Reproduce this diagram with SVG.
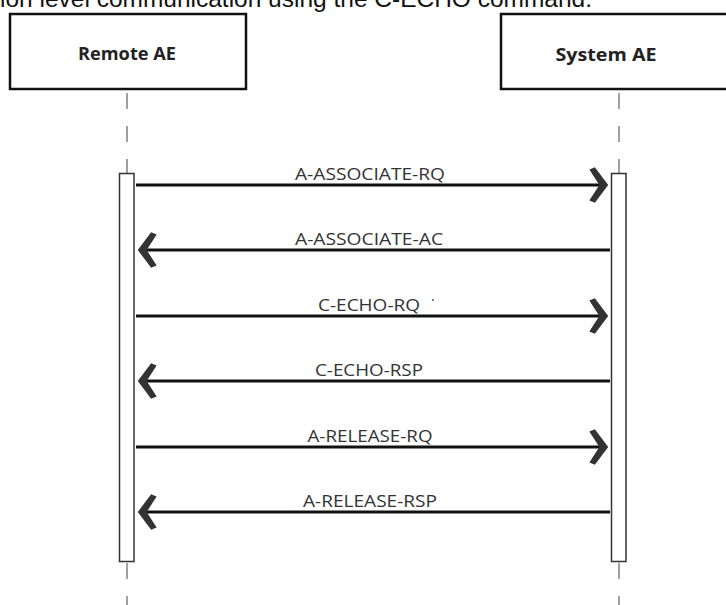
<svg xmlns="http://www.w3.org/2000/svg" width="726" height="605" viewBox="0 0 726 605">
<style>
.title{font-family:"Liberation Sans",Arial,sans-serif;font-size:24px;fill:#111}
.box{fill:#fff;stroke:#111;stroke-width:2.5}
.head{font-family:"Open Sans","Liberation Sans",sans-serif;font-size:17px;font-weight:bold;fill:#222;text-anchor:middle}
.life{stroke:#a0a0a0;stroke-width:2;stroke-dasharray:16 17;fill:none}
.act{fill:#fff;stroke:#333;stroke-width:1.5}
.msg{stroke:#111;stroke-width:3;fill:none}
.lbl{font-family:"Open Sans","Liberation Sans",sans-serif;font-size:16.5px;fill:#333;text-anchor:middle}
</style>
<defs>
<marker id="chev" markerUnits="userSpaceOnUse" markerWidth="30" markerHeight="40" viewBox="-18 -18 22 36" refX="0" refY="0" orient="auto">
<path d="M2,0 L-10,-16 L-15,-14 L-6,0 L-15,14 L-10,16 Z" fill="#333"/>
</marker>
</defs>
<text class="title" x="0" y="7" textLength="592" lengthAdjust="spacingAndGlyphs">ion level communication using the C-ECHO command.</text>
<g id="remote">
<rect class="box" x="10" y="14" width="236" height="75"/>
<text class="head" x="127" y="60" textLength="98" lengthAdjust="spacingAndGlyphs">Remote AE</text>
<line class="life" x1="127" y1="93" x2="127" y2="173"/>
<line class="life" x1="127" y1="563" x2="127" y2="605"/>
<rect class="act" x="119.5" y="173.5" width="14.5" height="388"/>
</g>
<g id="system">
<rect class="box" x="501" y="14" width="236" height="75"/>
<text class="head" x="606" y="61" textLength="101" lengthAdjust="spacingAndGlyphs">System AE</text>
<line class="life" x1="619" y1="93" x2="619" y2="173"/>
<line class="life" x1="619" y1="563" x2="619" y2="605"/>
<rect class="act" x="611.5" y="173.5" width="14.5" height="388"/>
</g>
<g id="connectors">
<line class="msg" x1="136" y1="185" x2="606" y2="185" marker-end="url(#chev)"/>
<text class="lbl" x="370" y="180" textLength="150" lengthAdjust="spacingAndGlyphs">A-ASSOCIATE-RQ</text>
<line class="msg" x1="610" y1="250" x2="140" y2="250" marker-end="url(#chev)"/>
<text class="lbl" x="369" y="245" textLength="148" lengthAdjust="spacingAndGlyphs">A-ASSOCIATE-AC</text>
<line class="msg" x1="136" y1="316" x2="606" y2="316" marker-end="url(#chev)"/>
<text class="lbl" x="369" y="311" textLength="102" lengthAdjust="spacingAndGlyphs">C-ECHO-RQ</text>
<circle cx="433" cy="300" r="1" fill="#555"/>
<line class="msg" x1="610" y1="381" x2="140" y2="381" marker-end="url(#chev)"/>
<text class="lbl" x="369" y="376" textLength="108" lengthAdjust="spacingAndGlyphs">C-ECHO-RSP</text>
<line class="msg" x1="136" y1="447" x2="606" y2="447" marker-end="url(#chev)"/>
<text class="lbl" x="370" y="442" textLength="125" lengthAdjust="spacingAndGlyphs">A-RELEASE-RQ</text>
<line class="msg" x1="610" y1="512" x2="140" y2="512" marker-end="url(#chev)"/>
<text class="lbl" x="370" y="507" textLength="134" lengthAdjust="spacingAndGlyphs">A-RELEASE-RSP</text>
</g>
</svg>
